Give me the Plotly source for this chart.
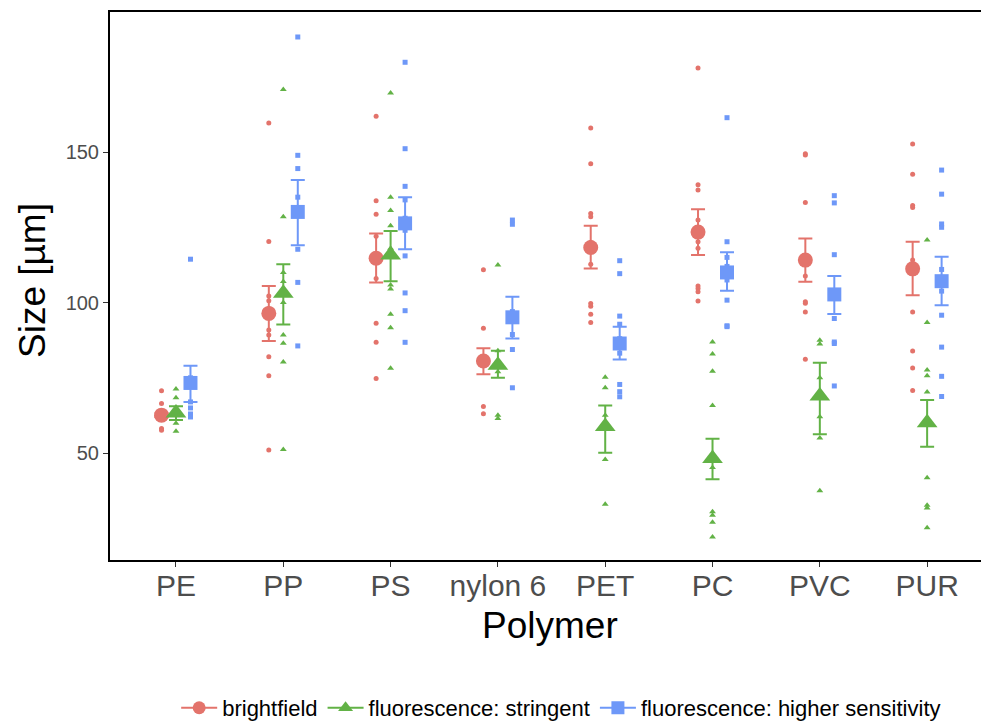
import plotly.graph_objects as go

categories = ["PE", "PP", "PS", "nylon 6", "PET", "PC", "PVC", "PUR"]
series_names = ["brightfield", "fluorescence: stringent", "fluorescence: higher sensitivity"]

# individual measurements per polymer
bright_pts = [
    [70.7, 66.5, 62.0, 58.2, 57.6],
    [159.6, 120.3, 102.2, 100.6, 98.0, 90.9, 89.2, 82.0, 75.7, 51.0],
    [161.9, 133.8, 129.3, 122.0, 114.0, 108.0, 93.1, 86.8, 74.8],
    [110.9, 91.5, 82.0, 79.0, 65.5, 63.1],
    [158.0, 146.1, 129.6, 128.5, 120.0, 112.7, 99.7, 98.8, 96.1, 93.4],
    [177.9, 139.1, 137.4, 127.4, 120.2, 118.0, 105.5, 104.7, 103.6, 100.5],
    [149.4, 149.0, 133.2, 108.8, 100.3, 99.8, 96.9, 81.2],
    [152.7, 142.6, 132.2, 131.6, 114.1, 96.9, 83.9, 78.3, 70.8],
]
string_pts = [
    [71.3, 68.4, 64.0, 59.9, 57.3],
    [170.8, 128.5, 110.0, 107.0, 100.0, 89.2, 86.5, 80.3, 51.2],
    [169.6, 135.0, 130.6, 125.5, 118.0, 105.8, 104.5, 96.1, 91.6, 78.2],
    [112.5, 84.0, 80.0, 77.0, 62.6, 61.5],
    [75.2, 71.7, 62.6, 60.0, 47.9, 33.0],
    [86.9, 82.9, 77.2, 65.8, 45.2, 30.5, 29.4, 27.0, 22.1],
    [87.5, 86.2, 75.0, 62.1, 55.0, 37.5],
    [120.8, 93.4, 77.6, 75.7, 70.3, 41.8, 32.7, 31.8, 25.2],
]
sens_pts = [
    [114.4, 75.0, 67.0, 65.0, 63.0, 62.0],
    [188.2, 148.9, 144.5, 135.0, 117.7, 106.7, 85.6],
    [179.8, 151.1, 138.6, 134.1, 128.0, 124.0, 115.5, 103.2, 97.3, 86.8],
    [127.4, 126.0, 97.0, 89.4, 84.4, 71.7],
    [113.9, 109.6, 95.5, 92.8, 88.0, 83.2, 72.8, 70.4, 68.7],
    [161.4, 120.2, 115.0, 112.0, 107.5, 100.8, 92.3, 92.0],
    [135.5, 133.1, 115.9, 104.0, 94.7, 86.9, 86.4, 72.3],
    [144.0, 136.0, 126.1, 125.0, 111.0, 103.8, 95.8, 85.2, 75.5, 68.8],
]

# summary: mean with lower / upper error bar
bright_mean = [62.6, 96.4, 114.7, 80.6, 118.3, 123.4, 114.1, 111.2]
bright_lo = [62.0, 87.2, 106.7, 76.2, 111.3, 115.8, 106.9, 102.4]
bright_hi = [63.2, 105.5, 122.9, 84.8, 125.5, 131.0, 121.3, 120.2]
string_mean = [63.3, 103.1, 115.8, 79.2, 58.8, 48.2, 69.0, 60.1]
string_lo = [61.0, 92.7, 107.1, 75.0, 50.1, 41.3, 56.3, 52.1]
string_hi = [65.6, 112.7, 123.8, 84.0, 65.8, 54.8, 80.0, 67.6]
sens_mean = [73.3, 130.1, 126.3, 95.1, 86.4, 110.0, 102.7, 107.1]
sens_lo = [67.0, 119.0, 117.7, 88.1, 81.1, 103.9, 96.2, 99.1]
sens_hi = [79.0, 140.7, 135.0, 101.9, 92.0, 116.7, 108.8, 115.2]

colors = ["#E3736B", "#62B246", "#6E98F8"]
symbols = ["circle", "triangle-up", "square"]
pt_sizes = [5, 6, 5]
mean_sizes = [15, 18, 14]
offsets = [-0.135, 0.0, 0.135]

points = [bright_pts, string_pts, sens_pts]
means = [bright_mean, string_mean, sens_mean]
los = [bright_lo, string_lo, sens_lo]
his = [bright_hi, string_hi, sens_hi]

fig = go.Figure()

for s in range(3):
    xs, ys = [], []
    for i, vals in enumerate(points[s]):
        for v in vals:
            xs.append(i + 1 + offsets[s])
            ys.append(v)
    fig.add_trace(go.Scatter(
        x=xs, y=ys, mode="markers", showlegend=False, hoverinfo="skip",
        marker=dict(color=colors[s], symbol=symbols[s], size=pt_sizes[s], line=dict(width=0)),
    ))

for s in range(3):
    xm = [i + 1 + offsets[s] for i in range(len(categories))]
    up = [h - m for h, m in zip(his[s], means[s])]
    dn = [m - l for m, l in zip(means[s], los[s])]
    fig.add_trace(go.Scatter(
        x=xm, y=means[s], mode="markers", showlegend=False,
        marker=dict(color=colors[s], symbol=symbols[s], size=mean_sizes[s], line=dict(width=0)),
        error_y=dict(type="data", symmetric=False, array=up, arrayminus=dn,
                     color=colors[s], thickness=2, width=7),
    ))

for s in range(3):
    fig.add_trace(go.Scatter(
        x=[None], y=[None], mode="lines+markers", name=series_names[s],
        line=dict(color=colors[s], width=2),
        marker=dict(color=colors[s], symbol=symbols[s], size=13),
    ))

fig.update_layout(
    width=981, height=721,
    margin=dict(l=110, r=0, t=12, b=161, autoexpand=False),
    plot_bgcolor="white", paper_bgcolor="white",
    font=dict(family="Liberation Sans, Arial, sans-serif", color="#000"),
    legend=dict(orientation="h", x=0.518, xanchor="center", y=-0.27, yanchor="middle",
                font=dict(size=22, color="#000"), itemwidth=36, tracegroupgap=0),
    showlegend=True,
)

fig.update_xaxes(
    range=[0.385, 8.502], tickmode="array", tickvals=list(range(1, len(categories) + 1)),
    ticktext=categories, tickfont=dict(size=30, color="#4D4D4D"),
    ticks="outside", ticklen=5, tickcolor="#333", tickwidth=1.2,
    ticklabelstandoff=-7,
    showgrid=False, zeroline=False, automargin=False,
    showline=True, linecolor="#000", linewidth=2, mirror=True,
)
fig.update_yaxes(
    range=[14.5, 196.5], tickmode="array", tickvals=[50, 100, 150],
    tickfont=dict(size=20, color="#4D4D4D"),
    ticks="outside", ticklen=5, tickcolor="#333", tickwidth=1.2,
    showgrid=False, zeroline=False, automargin=False,
    showline=True, linecolor="#000", linewidth=2, mirror=False,
)

fig.add_annotation(text="Polymer", xref="paper", yref="paper", x=0.505, y=-0.119,
                   xanchor="center", yanchor="middle", showarrow=False,
                   font=dict(size=37, color="#000"))
fig.add_annotation(text="Size [µm]", xref="paper", yref="paper", x=-0.089, y=0.51,
                   xanchor="center", yanchor="middle", showarrow=False, textangle=-90,
                   font=dict(size=37, color="#000"))

fig.write_html("out.html", config={"displayModeBar": False},
               post_script="document.body.style.margin='0';")
